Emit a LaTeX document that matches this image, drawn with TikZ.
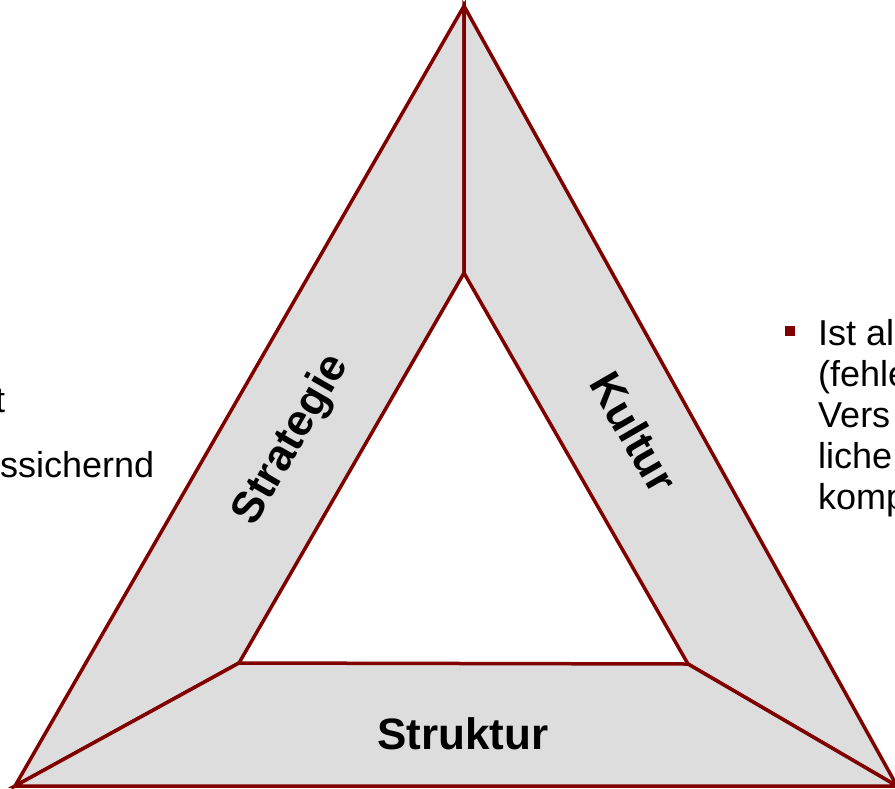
\documentclass[tikz,border=0pt]{standalone}
\usepackage{fontspec}
\setmainfont{Liberation Sans}
\definecolor{dred}{HTML}{800000}
\definecolor{lgray}{HTML}{DDDDDD}
\begin{document}
\begin{tikzpicture}[x=1pt,y=-1pt,
  band/.style={fill=lgray,draw=dred,line width=3.5pt,line join=miter},
  lbl/.style={font=\fontsize{44}{48}\selectfont\bfseries,inner sep=0pt},
  body/.style={font=\fontsize{36}{40}\selectfont,inner sep=0pt,anchor=base west},
  bullet/.style={fill=dred,minimum size=10pt,inner sep=0pt}]
\useasboundingbox (0,0) rectangle (895,788);
\coordinate (OT) at (464,6);
\coordinate (OL) at (15,786);
\coordinate (OR) at (897,786);
\coordinate (IT) at (464,273);
\coordinate (IL) at (239,663);
\coordinate (IR) at (688,664);
\draw[band] (OT) -- (IT) -- (IL) -- (OL) -- cycle;
\draw[band] (OT) -- (IT) -- (IR) -- (OR) -- cycle;
\draw[band] (OL) -- (IL) -- (IR) -- (OR) -- cycle;
\node[lbl,rotate=60] (strat) at (292,440) {Strategie};
\node[lbl,rotate=-60] (kult) at (634,432) {Kultur};
\node[lbl] (strukt) at (463,734) {Struktur};
% left text (cropped at the left edge)
\node[body] (lt1) at (-5,412) {t};
\node[body] (lt2) at (0,477) {ssichernd};
% right text (cropped at the right edge)
\node[bullet] (bul) at (790,331) {};
\node[body] (r1) at (818,345) {Ist al};
\node[body] (r2) at (818,386) {(fehle};
\node[body] (r3) at (818,427) {Vers};
\node[body] (r4) at (818,468) {liche};
\node[body] (r5) at (818,509) {komp};
\end{tikzpicture}
\end{document}
